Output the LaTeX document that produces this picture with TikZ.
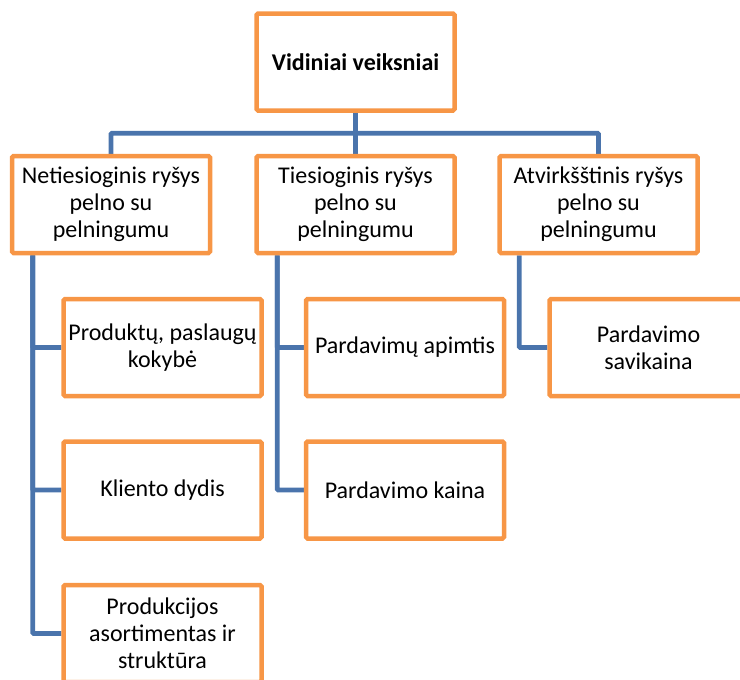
\documentclass[tikz,border=0pt]{standalone}
\usepackage{fontspec}
\setmainfont{Carlito}
\usepackage{xcolor}
\usetikzlibrary{positioning, calc, backgrounds}

\definecolor{boxorange}{HTML}{F79646}
\definecolor{linkblue}{HTML}{4A74AC}

\tikzset{
  factor/.style={draw=boxorange, line width=4.5pt, fill=white,
    rounded corners=1.5pt, minimum width=198pt, minimum height=97pt,
    align=center, inner sep=2pt, font=\fontsize{24}{27}\selectfont},
  link/.style={draw=linkblue, line width=4.6pt, rounded corners=1pt},
}

\begin{document}
\begin{tikzpicture}[x=1pt, y=-1pt]

\useasboundingbox (0,0) rectangle (740,680);
\clip (0,0) rectangle (740,680);

% ---- 1. top box ----
\pgfmathsetmacro{\midx}{355.5}
\node[factor, font=\fontsize{24}{27}\selectfont\bfseries] (top) at (\midx,62) {Vidiniai veiksniai};

% ---- 2. three kinds of link (row 2) ----
\pgfmathsetmacro{\rowB}{204.5}
\node[factor] (net) at (111,\rowB)   {Netiesioginis ryšys\\pelno su\\pelningumu};
\node[factor] (tie) at (\midx,\rowB) {Tiesioginis ryšys\\pelno su\\pelningumu};
\node[factor] (atv) at (598.5,\rowB) {Atvirkšštinis ryšys\\pelno su\\pelningumu};

% ---- 3. factors below each kind ----
\pgfmathsetmacro{\rowC}{347.5}
\pgfmathsetmacro{\rowD}{490}
\pgfmathsetmacro{\rowE}{633.5}
\node[factor] (prod)   at (162.5,\rowC) {Produktų, paslaugų\\kokybė};
\node[factor] (klient) at (162.5,\rowD) {Kliento dydis};
\node[factor] (asort)  at (162.5,\rowE) {Produkcijos\\asortimentas ir\\struktūra};
\node[factor] (apimt)  at (405,\rowC)   {Pardavimų apimtis};
\node[factor] (kaina)  at (405,\rowD)   {Pardavimo kaina};
\node[factor] (savik)  at (648.5,\rowC) {Pardavimo\\savikaina};

% ---- 4. connectors, kept under the boxes ----
\begin{pgfonlayer}{background}
  \coordinate (bus) at ($(top.south)!0.5!(tie.north)$);
  \draw[link] (top.south) -- (tie.north);
  \draw[link] (net.north) |- (bus) -| (atv.north);

  % elbows from the left side of each parent
  \draw[link] ([xshift=23pt]net.south west) |- (prod.west);
  \draw[link] ([xshift=23pt]net.south west) |- (klient.west);
  \draw[link] ([xshift=23pt]net.south west) |- (asort.west);
  \draw[link] ([xshift=23pt]tie.south west) |- (apimt.west);
  \draw[link] ([xshift=23pt]tie.south west) |- (kaina.west);
  \draw[link] ([xshift=22pt]atv.south west) |- (savik.west);
\end{pgfonlayer}

\end{tikzpicture}
\end{document}
